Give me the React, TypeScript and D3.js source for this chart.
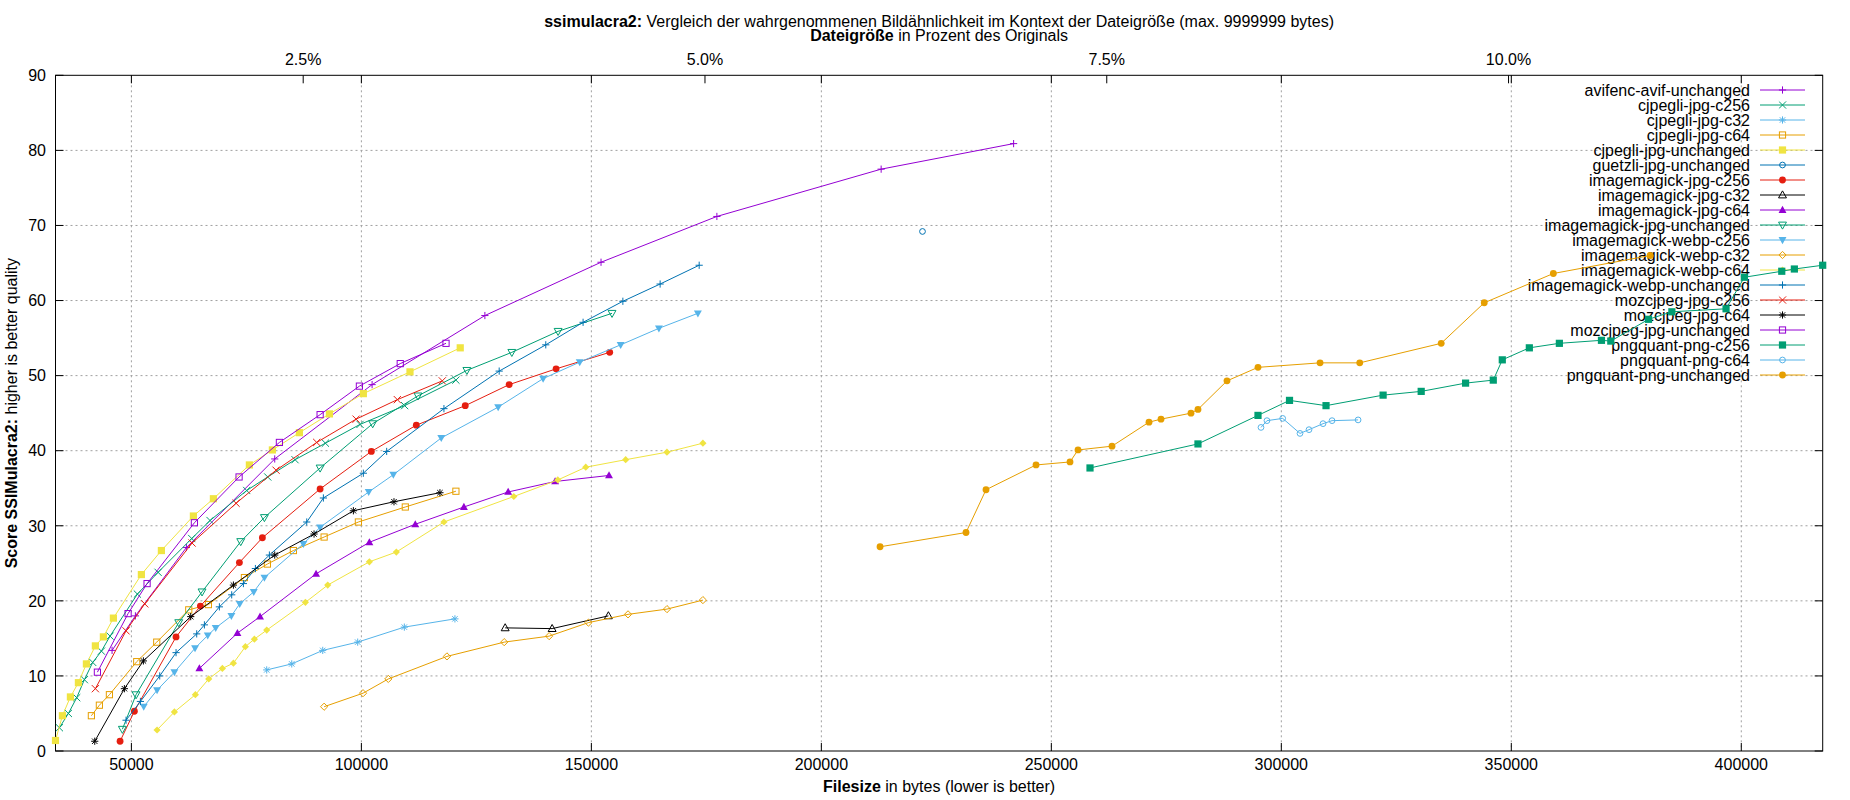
import React from 'react';
import * as d3 from 'd3';

const W = 1850;
const H = 800;
const ORIGINAL_SIZE = 3494000;

const xTicks = [50000, 100000, 150000, 200000, 250000, 300000, 350000, 400000];
const yTicks = [0, 10, 20, 30, 40, 50, 60, 70, 80, 90];
const x2Ticks = [2.5, 5, 7.5, 10];
const x2TickLabels = ['2.5%', '5.0%', '7.5%', '10.0%'];

const seriesNames = [
  'avifenc-avif-unchanged', 'cjpegli-jpg-c256', 'cjpegli-jpg-c32', 'cjpegli-jpg-c64',
  'cjpegli-jpg-unchanged', 'guetzli-jpg-unchanged', 'imagemagick-jpg-c256', 'imagemagick-jpg-c32',
  'imagemagick-jpg-c64', 'imagemagick-jpg-unchanged', 'imagemagick-webp-c256', 'imagemagick-webp-c32',
  'imagemagick-webp-c64', 'imagemagick-webp-unchanged', 'mozcjpeg-jpg-c256', 'mozcjpeg-jpg-c64',
  'mozcjpeg-jpg-unchanged', 'pngquant-png-c256', 'pngquant-png-c64', 'pngquant-png-unchanged',
];
const palette = ['#9400d3', '#009e73', '#56b4e9', '#e69f00', '#f0e442', '#0072b2', '#e51e10', '#000000'];
const seriesPointTypes = [1, 2, 3, 4, 5, 6, 7, 8, 9, 10, 11, 12, 13, 1, 2, 3, 4, 5, 6, 7];

const avifencAvifUnchanged = [[45800, 13.4], [50870, 18.0], [61960, 27.1], [81160, 38.9], [102330, 48.8], [126850, 58.0], [152100, 65.1], [177290, 71.2], [213000, 77.5], [241800, 80.9]];
const cjpegliJpgC256 = [[34350, 3.1], [36300, 5.0], [38110, 7.1], [39780, 9.5], [41590, 11.8], [43480, 13.3], [45360, 15.3], [51300, 20.9], [55800, 23.8], [63120, 28.3], [67100, 30.7], [75070, 34.7], [79640, 36.5], [85580, 38.8], [92180, 41.0], [99710, 43.5], [109410, 46.0], [120550, 49.4]];
const cjpegliJpgC32 = [[79420, 10.8], [84860, 11.6], [91600, 13.4], [99200, 14.5], [109340, 16.5], [120340, 17.6]];
const cjpegliJpgC64 = [[41300, 4.7], [43040, 6.1], [45220, 7.5], [51160, 11.9], [55510, 14.5], [62470, 18.8], [66740, 19.5], [74570, 23.1], [79570, 24.9], [85220, 26.7], [91900, 28.5], [99350, 30.5], [109550, 32.5], [120550, 34.6]];
const cjpegliJpgUnchanged = [[33500, 1.4], [35000, 4.7], [36740, 7.2], [38480, 9.1], [40220, 11.6], [42170, 14.0], [43910, 15.2], [46090, 17.7], [52170, 23.5], [56520, 26.7], [63480, 31.3], [67830, 33.6], [75650, 38.1], [80650, 40.1], [86520, 42.4], [93050, 44.9], [100430, 47.6], [110570, 50.5], [121490, 53.7]];
const guetzliJpgUnchanged = [[221990, 69.2]];
const imagemagickJpgC256 = [[47540, 1.3], [50650, 5.3], [59710, 15.2], [65000, 19.3], [73480, 25.1], [78480, 28.4], [91030, 34.9], [102170, 39.9], [111940, 43.4], [122580, 46.0], [132130, 48.8], [142330, 50.9], [153990, 53.1]];
const imagemagickJpgC32 = [[131260, 16.4], [141470, 16.3], [153700, 18.0]];
const imagemagickJpgC64 = [[64780, 11.0], [73050, 15.7], [77970, 17.9], [90150, 23.6], [101740, 27.8], [111720, 30.2], [122290, 32.5], [131910, 34.5], [142120, 35.9], [153840, 36.7]];
const imagemagickJpgUnchanged = [[48040, 2.9], [51010, 7.5], [60290, 17.1], [65360, 21.2], [73770, 27.9], [78920, 31.1], [91030, 37.7], [102460, 43.6], [112300, 47.3], [122940, 50.7], [132710, 53.1], [142770, 55.9], [154490, 58.3]];
const imagemagickWebpC256 = [[52680, 5.9], [55580, 8.1], [59350, 10.5], [63840, 13.7], [66600, 15.4], [68330, 16.4], [71740, 18.0], [73550, 19.6], [76600, 21.2], [78920, 23.1], [87390, 27.6], [91030, 29.8], [101590, 34.5], [106950, 36.8], [117370, 41.7], [129740, 45.8], [139510, 49.6], [147470, 51.8], [156370, 54.1], [164690, 56.3], [173160, 58.3]];
const imagemagickWebpC32 = [[91900, 5.9], [100360, 7.7], [105860, 9.6], [118600, 12.6], [131050, 14.5], [140820, 15.3], [149360, 17.1], [157970, 18.2], [166440, 18.9], [174250, 20.1]];
const imagemagickWebpC64 = [[55580, 2.8], [59350, 5.2], [63910, 7.5], [66810, 9.6], [69780, 11.0], [72180, 11.7], [74780, 13.9], [76740, 14.9], [79420, 16.1], [87830, 19.8], [92680, 22.1], [101740, 25.2], [107600, 26.5], [117950, 30.5], [133140, 33.9], [142700, 36.1], [148780, 37.8], [157460, 38.8], [166430, 39.8], [174250, 41.0]];
const imagemagickWebpUnchanged = [[48840, 4.1], [51960, 6.6], [56160, 10.0], [59710, 13.1], [64200, 15.6], [65870, 16.8], [69130, 19.2], [71810, 20.8], [74350, 22.3], [76960, 24.3], [80000, 26.1], [88120, 30.5], [91740, 33.7], [100430, 37.0], [105500, 39.9], [117950, 45.6], [129960, 50.6], [140090, 54.1], [148200, 57.1], [156850, 59.9], [164950, 62.2], [173440, 64.7]];
const mozcjpegJpgC256 = [[42170, 8.3], [48840, 16.0], [52900, 19.6], [63190, 27.7], [72760, 33.0], [81450, 37.4], [90290, 41.1], [98850, 44.2], [107820, 46.8], [117590, 49.3]];
const mozcjpegJpgC64 = [[42030, 1.3], [48480, 8.3], [52610, 12.0], [62900, 17.9], [72180, 22.1], [81160, 26.1], [89710, 28.9], [98260, 32.0], [107090, 33.2], [117080, 34.4]];
const mozcjpegJpgUnchanged = [[42610, 10.5], [49280, 18.3], [53410, 22.3], [63700, 30.4], [73410, 36.5], [82180, 41.1], [91030, 44.8], [99570, 48.6], [108450, 51.6], [118400, 54.3]];
const pngquantPngC256 = [[258410, 37.7], [281880, 40.9], [294930, 44.7], [301780, 46.7], [309720, 46.0], [322130, 47.4], [330410, 47.9], [340060, 49.0], [346080, 49.4], [348040, 52.1], [353920, 53.7], [360450, 54.3], [369600, 54.7], [371630, 54.6], [379830, 57.5], [384910, 58.5], [396690, 58.9], [400670, 63.1], [408800, 63.9], [411540, 64.2], [417700, 64.7]];
const pngquantPngC64 = [[295580, 43.1], [296880, 44.0], [300300, 44.3], [304060, 42.3], [306020, 42.8], [309070, 43.6], [311030, 44.0], [316690, 44.1]];
const pngquantPngUnchanged = [[212760, 27.2], [231450, 29.1], [235800, 34.8], [246670, 38.1], [254060, 38.5], [255800, 40.1], [263190, 40.6], [271230, 43.8], [273840, 44.2], [280360, 45.0], [281880, 45.5], [288190, 49.3], [294930, 51.1], [308420, 51.7], [317050, 51.7], [334760, 54.3], [344120, 59.7], [359140, 63.6], [380190, 66.0]];

const seriesData = [
  avifencAvifUnchanged, cjpegliJpgC256, cjpegliJpgC32, cjpegliJpgC64, cjpegliJpgUnchanged,
  guetzliJpgUnchanged, imagemagickJpgC256, imagemagickJpgC32, imagemagickJpgC64, imagemagickJpgUnchanged,
  imagemagickWebpC256, imagemagickWebpC32, imagemagickWebpC64, imagemagickWebpUnchanged,
  mozcjpegJpgC256, mozcjpegJpgC64, mozcjpegJpgUnchanged, pngquantPngC256, pngquantPngC64, pngquantPngUnchanged,
];

const FONT = '"Liberation Sans", Arial, sans-serif';
const FS = 16;
const plotLeft = 55.5;
const plotRight = 1822.7;
const plotTop = 75.3;
const plotBottom = 751;

const allX = seriesData.flat().map((d) => d[0]);
const x = d3.scaleLinear().domain(d3.extent(allX) as [number, number]).range([plotLeft, plotRight]);
const y = d3.scaleLinear().domain([0, 90]).range([plotBottom, plotTop]);

function Marker({ t, cx, cy, c }: { t: number; cx: number; cy: number; c: string }) {
  const s = 3.6;
  const sw = 1;
  switch (t) {
    case 1:
      return <path d={`M${cx - s},${cy}H${cx + s}M${cx},${cy - s}V${cy + s}`} stroke={c} strokeWidth={sw} fill="none" />;
    case 2:
      return <path d={`M${cx - s},${cy - s}L${cx + s},${cy + s}M${cx - s},${cy + s}L${cx + s},${cy - s}`} stroke={c} strokeWidth={sw} fill="none" />;
    case 3:
      return <path d={`M${cx - s},${cy}H${cx + s}M${cx},${cy - s}V${cy + s}M${cx - s * 0.75},${cy - s * 0.75}L${cx + s * 0.75},${cy + s * 0.75}M${cx - s * 0.75},${cy + s * 0.75}L${cx + s * 0.75},${cy - s * 0.75}`} stroke={c} strokeWidth={sw} fill="none" />;
    case 4:
      return <rect x={cx - s + 0.5} y={cy - s + 0.5} width={2 * s - 1} height={2 * s - 1} stroke={c} strokeWidth={sw} fill="none" />;
    case 5:
      return <rect x={cx - s} y={cy - s} width={2 * s} height={2 * s} fill={c} />;
    case 6:
      return <circle cx={cx} cy={cy} r={s * 0.8} stroke={c} strokeWidth={sw} fill="none" />;
    case 7:
      return <circle cx={cx} cy={cy} r={s * 0.95} fill={c} />;
    case 8:
    case 9: {
      const d = `M${cx},${cy - s * 1.15}L${cx + s * 1.1},${cy + s * 0.8}L${cx - s * 1.1},${cy + s * 0.8}Z`;
      return t === 8 ? <path d={d} stroke={c} strokeWidth={sw} fill="none" /> : <path d={d} fill={c} />;
    }
    case 10:
    case 11: {
      const d = `M${cx},${cy + s * 1.15}L${cx + s * 1.1},${cy - s * 0.8}L${cx - s * 1.1},${cy - s * 0.8}Z`;
      return t === 10 ? <path d={d} stroke={c} strokeWidth={sw} fill="none" /> : <path d={d} fill={c} />;
    }
    case 12:
    case 13: {
      const d = `M${cx},${cy - s}L${cx + s},${cy}L${cx},${cy + s}L${cx - s},${cy}Z`;
      return t === 12 ? <path d={d} stroke={c} strokeWidth={sw} fill="none" /> : <path d={d} fill={c} />;
    }
    default:
      return null;
  }
}

export default function App() {
  const line = d3
    .line<number[]>()
    .x((d) => x(d[0]))
    .y((d) => y(d[1]));

  const tickLen = 8;
  const legendTextX = 1750;
  const legendLine0 = 1760;
  const legendLine1 = 1805;
  const legendY0 = 90;
  const legendDy = 15;
  const bl = 5.8;

  return (
    <svg
      width={W}
      height={H}
      viewBox={`0 0 ${W} ${H}`}
      style={{ position: 'absolute', left: 0, top: 0, background: '#fff' }}
      fontFamily={FONT}
      fontSize={FS}
    >
      <rect x={0} y={0} width={W} height={H} fill="#fff" />
      <g stroke="#a0a0a0" strokeWidth={1} strokeDasharray="2,3">
        {xTicks.map((t) => (
          <line key={'gx' + t} x1={x(t)} x2={x(t)} y1={plotTop} y2={plotBottom} />
        ))}
        {yTicks.slice(1, -1).map((t) => (
          <line key={'gy' + t} x1={plotLeft} x2={plotRight} y1={y(t)} y2={y(t)} />
        ))}
      </g>
      <rect x={plotLeft} y={plotTop} width={plotRight - plotLeft} height={plotBottom - plotTop} fill="none" stroke="#000" strokeWidth={1} />
      <g stroke="#000" strokeWidth={1}>
        {xTicks.map((t) => (
          <g key={'tx' + t}>
            <line x1={x(t)} x2={x(t)} y1={plotBottom} y2={plotBottom - tickLen} />
            <line x1={x(t)} x2={x(t)} y1={plotTop} y2={plotTop + tickLen} />
          </g>
        ))}
        {yTicks.map((t) => (
          <g key={'ty' + t}>
            <line x1={plotLeft} x2={plotLeft + tickLen} y1={y(t)} y2={y(t)} />
            <line x1={plotRight} x2={plotRight - tickLen} y1={y(t)} y2={y(t)} />
          </g>
        ))}
        {x2Ticks.map((p) => (
          <line key={'tx2' + p} x1={x((p / 100) * ORIGINAL_SIZE)} x2={x((p / 100) * ORIGINAL_SIZE)} y1={plotTop} y2={plotTop + tickLen} />
        ))}
      </g>
      <g fill="#000">
        {xTicks.map((t) => (
          <text key={'lx' + t} x={x(t)} y={770} textAnchor="middle">
            {t}
          </text>
        ))}
        {yTicks.map((t) => (
          <text key={'ly' + t} x={46} y={y(t) + bl} textAnchor="end">
            {t}
          </text>
        ))}
        {x2Ticks.map((p, i) => (
          <text key={'lx2' + p} x={x((p / 100) * ORIGINAL_SIZE)} y={64.5} textAnchor="middle">
            {x2TickLabels[i]}
          </text>
        ))}
      </g>
      <text x={(plotLeft + plotRight) / 2} y={27} textAnchor="middle">
        <tspan fontWeight="bold">ssimulacra2:</tspan>
        <tspan> Vergleich der wahrgenommenen Bildähnlichkeit im Kontext der Dateigröße (max. 9999999 bytes)</tspan>
      </text>
      <text x={(plotLeft + plotRight) / 2} y={41} textAnchor="middle">
        <tspan fontWeight="bold">Dateigröße</tspan>
        <tspan> in Prozent des Originals</tspan>
      </text>
      <text x={(plotLeft + plotRight) / 2} y={792} textAnchor="middle">
        <tspan fontWeight="bold">Filesize</tspan>
        <tspan> in bytes (lower is better)</tspan>
      </text>
      <text transform={`translate(17,${(plotTop + plotBottom) / 2}) rotate(-90)`} textAnchor="middle">
        <tspan fontWeight="bold">Score SSIMulacra2:</tspan>
        <tspan> higher is better quality</tspan>
      </text>
      <g>
        {seriesNames.map((name, i) => {
          const ly = legendY0 + i * legendDy;
          const c = palette[i % palette.length];
          return (
            <g key={'leg' + name}>
              <text x={legendTextX} y={ly + bl} textAnchor="end">
                {name}
              </text>
              <line x1={legendLine0} x2={legendLine1} y1={ly} y2={ly} stroke={c} strokeWidth={1} />
              <Marker t={seriesPointTypes[i]} cx={(legendLine0 + legendLine1) / 2} cy={ly} c={c} />
            </g>
          );
        })}
      </g>
      {seriesData.map((data, i) => {
        const c = palette[i % palette.length];
        return (
          <g key={'s' + i}>
            {data.length > 1 && <path d={line(data) || ''} fill="none" stroke={c} strokeWidth={1} />}
            {data.map((d, j) => (
              <Marker key={j} t={seriesPointTypes[i]} cx={x(d[0])} cy={y(d[1])} c={c} />
            ))}
          </g>
        );
      })}
    </svg>
  );
}
